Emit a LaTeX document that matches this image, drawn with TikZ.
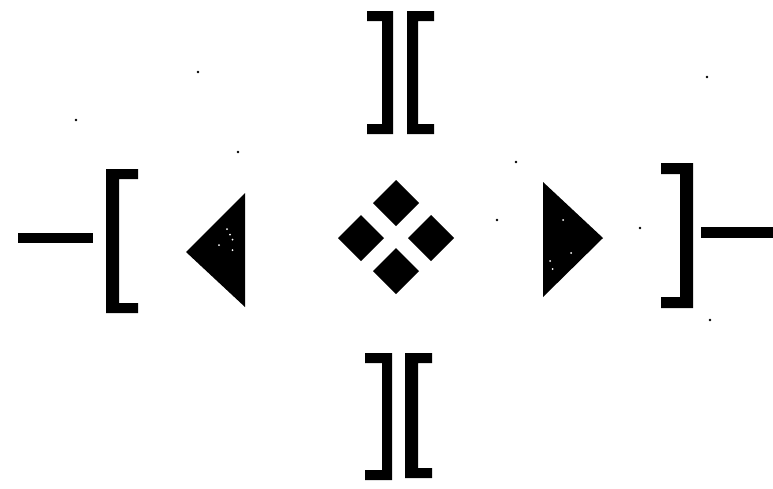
\documentclass[tikz,border=0pt]{standalone}
\tikzset{
  ink/.style={fill=black,draw=none},
  speck/.style={fill=black,draw=none},
  hole/.style={fill=white,draw=none}
}
\newcommand{\leftbr}[6]{% x0 x1 xv y0 y1 arm
  \fill[ink] (#1,#4) -- (#2,#4) -- (#2,#4+#6) -- (#3,#4+#6) -- (#3,#5-#6) -- (#2,#5-#6) -- (#2,#5) -- (#1,#5) -- cycle;}
\newcommand{\rightbr}[6]{% x1 x0 xv y0 y1 arm
  \fill[ink] (#1,#4) -- (#2,#4) -- (#2,#4+#6) -- (#3,#4+#6) -- (#3,#5-#6) -- (#2,#5-#6) -- (#2,#5) -- (#1,#5) -- cycle;}
\newcommand{\diam}[2]{\fill[ink] (#1-23,#2) -- (#1,#2-23) -- (#1+23,#2) -- (#1,#2+23) -- cycle;}
\begin{document}
\begin{tikzpicture}[x=1pt,y=-1pt]
\useasboundingbox (0,0) rectangle (773,488);
\fill[white] (0,0) rectangle (773,488);
% horizontal strokes
\fill[ink] (18,233) rectangle (93,243);
\fill[ink] (701,227) rectangle (773,238);
% outer brackets
\leftbr{106}{138}{119}{169}{313}{10}
\rightbr{693}{661}{680}{163}{308}{11}
% top pair
\rightbr{393}{367}{382}{11}{134}{10}
\leftbr{407}{434}{418}{11}{134}{10}
% bottom pair
\rightbr{392}{365}{382}{353}{480}{10}
\leftbr{405}{432}{418}{353}{478}{10}
% triangles
\fill[ink] (186,252) -- (245,193) -- (245,307) -- cycle;
\fill[ink] (603,238) -- (543,182) -- (543,297) -- cycle;
% diamonds
\diam{396}{203}
\diam{361}{238}
\diam{431}{238}
\diam{396}{271}
% specks
\foreach \p in {(198,72),(76,120),(238,152),(707,77),(516,162),(497,220),(640,228),(710,320)}
  \fill[speck] \p circle (1.4);
\foreach \p in {(227,229),(230,234.5),(232.5,239.5),(219,245),(232.5,250),(563,220),(571,253),(550,261),(552.5,269)}
  \fill[hole] \p circle (1);
\end{tikzpicture}
\end{document}
